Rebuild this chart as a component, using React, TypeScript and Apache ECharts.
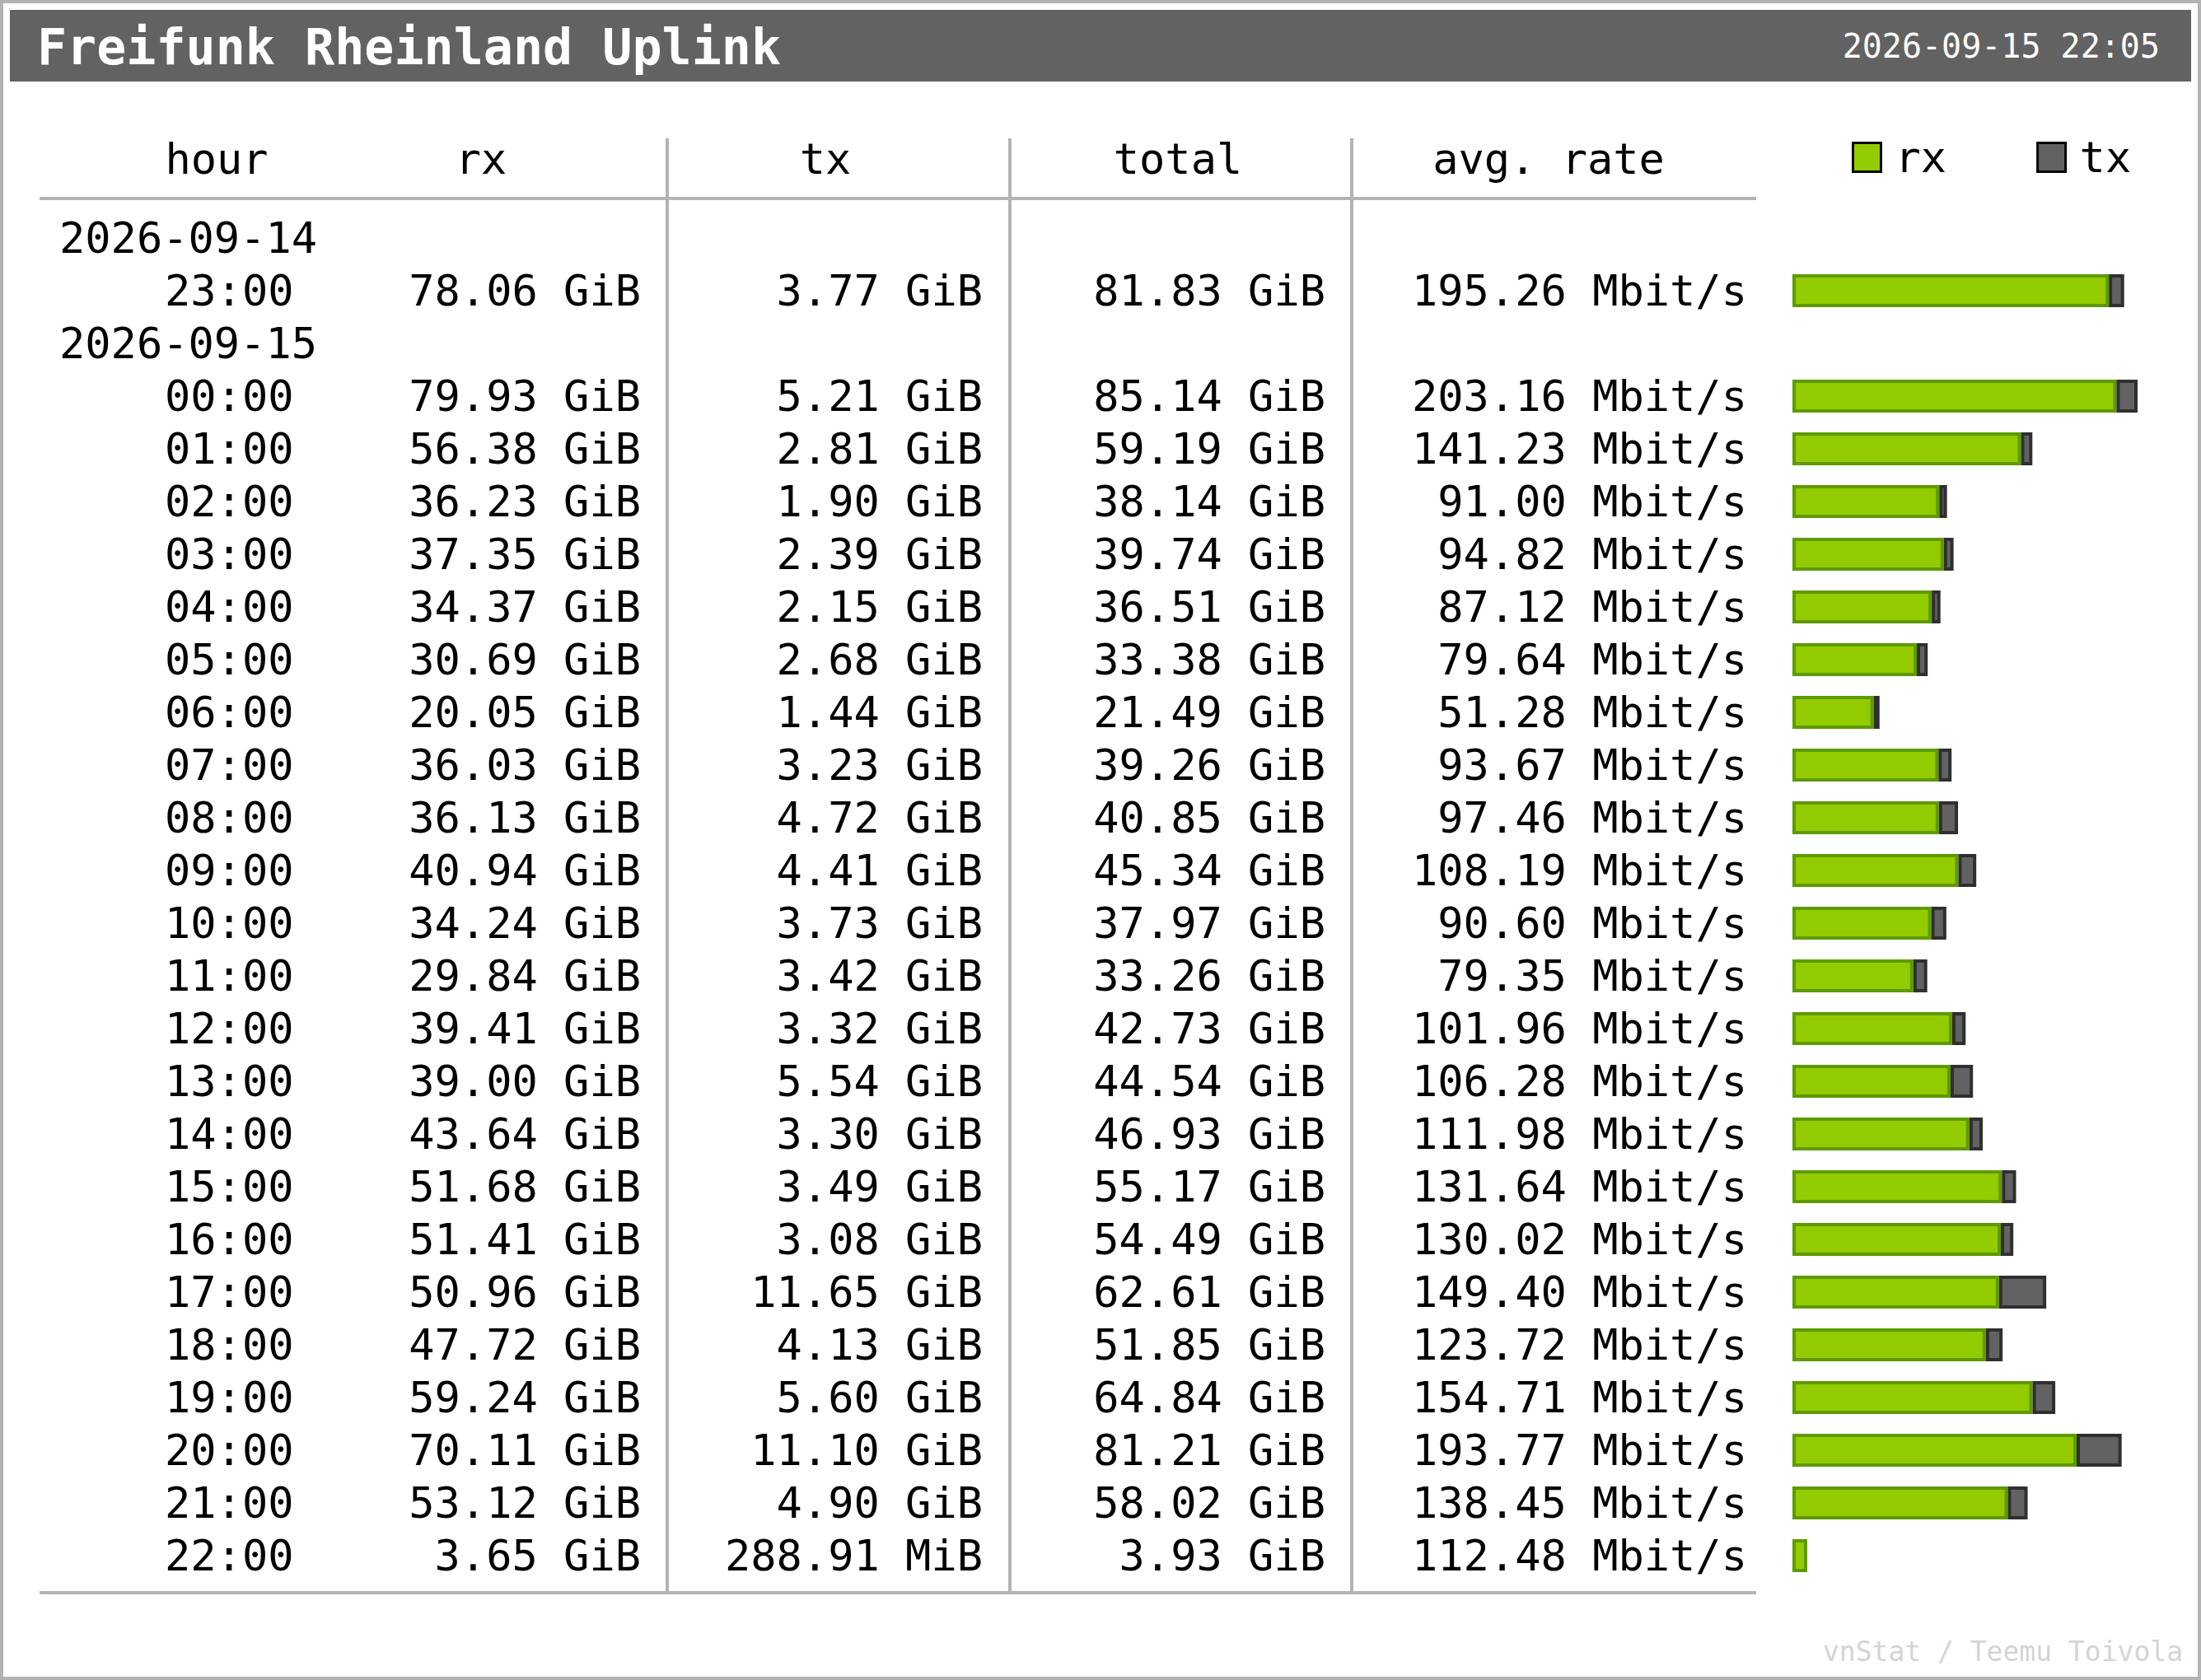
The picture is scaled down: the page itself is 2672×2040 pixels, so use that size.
import React, { useEffect, useRef } from 'react';
import * as echarts from 'echarts';

const FONT = '"DejaVu Sans Mono", monospace';

const chartTitle = 'Freifunk Rheinland Uplink';
const generatedAt = '2026-09-15 22:05';
const credit = 'vnStat / Teemu Toivola';
const columnHeaders = ['hour', 'rx', 'tx', 'total', 'avg. rate'];

// date rows are printed just before the hour with this index
const dayBreaks = [
  { before: 0, date: '2026-09-14' },
  { before: 1, date: '2026-09-15' },
];

const hours = [
  '23:00', '00:00', '01:00', '02:00', '03:00', '04:00', '05:00', '06:00',
  '07:00', '08:00', '09:00', '10:00', '11:00', '12:00', '13:00', '14:00',
  '15:00', '16:00', '17:00', '18:00', '19:00', '20:00', '21:00', '22:00',
];
const rxGiB = [
  78.06, 79.93, 56.38, 36.23, 37.35, 34.37, 30.69, 20.05,
  36.03, 36.13, 40.94, 34.24, 29.84, 39.41, 39.0, 43.64,
  51.68, 51.41, 50.96, 47.72, 59.24, 70.11, 53.12, 3.65,
];
// last hour is 288.91 MiB
const txGiB = [
  3.77, 5.21, 2.81, 1.9, 2.39, 2.15, 2.68, 1.44,
  3.23, 4.72, 4.41, 3.73, 3.42, 3.32, 5.54, 3.3,
  3.49, 3.08, 11.65, 4.13, 5.6, 11.1, 4.9, 0.28214,
];
const totalGiB = [
  81.83, 85.14, 59.19, 38.14, 39.74, 36.51, 33.38, 21.49,
  39.26, 40.85, 45.34, 37.97, 33.26, 42.73, 44.54, 46.93,
  55.17, 54.49, 62.61, 51.85, 64.84, 81.21, 58.02, 3.93,
];
const rateMbit = [
  195.26, 203.16, 141.23, 91.0, 94.82, 87.12, 79.64, 51.28,
  93.67, 97.46, 108.19, 90.6, 79.35, 101.96, 106.28, 111.98,
  131.64, 130.02, 149.4, 123.72, 154.71, 193.77, 138.45, 112.48,
];

type Row = { date?: string; h?: number };

const rows: Row[] = [];
hours.forEach((_, i) => {
  const brk = dayBreaks.find((d) => d.before === i);
  if (brk) rows.push({ date: brk.date });
  rows.push({ h: i });
});
const rowKeys = rows.map((_, i) => String(i));

const fmtSize = (v: number) =>
  v < 1 ? (v * 1024).toFixed(2) + ' MiB' : v.toFixed(2) + ' GiB';

const GRID_LEFT = 2176;
const ROW_H = 64;
const GRID_TOP = 257;

const labelAxis = (offset: number, align: string, text: (r: Row) => string) => ({
  type: 'category',
  data: rowKeys,
  inverse: true,
  position: 'left',
  offset,
  axisLine: { show: false },
  axisTick: { show: false },
  splitLine: { show: false },
  axisLabel: {
    interval: 0,
    margin: 0,
    align,
    fontFamily: FONT,
    fontSize: 52,
    color: '#000',
    formatter: (v: string) => text(rows[Number(v)]),
  },
});

const hourCell = (r: Row, fn: (i: number) => string) => (r.h === undefined ? '' : fn(r.h));

export default function App() {
  const chartRef = useRef<HTMLDivElement>(null);

  useEffect(() => {
    if (!chartRef.current) return;
    const chart = echarts.init(chartRef.current, null, { renderer: 'svg' });

    const maxTotal = Math.max(...rxGiB.map((v, i) => v + txGiB[i]));

    const headerText = (text: string, x: number) => ({
      type: 'text',
      x,
      y: 193,
      style: {
        text,
        fill: '#000',
        fontFamily: FONT,
        fontSize: 52,
        align: 'center',
        textAlign: 'center',
        verticalAlign: 'middle',
        textVerticalAlign: 'middle',
      },
    });
    const tableLine = (x1: number, y1: number, x2: number, y2: number) => ({
      type: 'line',
      shape: { x1, y1, x2, y2 },
      style: { stroke: '#b3b3b3', lineWidth: 4 },
    });

    const option = {
      animation: false,
      backgroundColor: '#fff',
      grid: {
        left: GRID_LEFT,
        top: GRID_TOP,
        width: 419,
        height: rows.length * ROW_H,
      },
      xAxis: { type: 'value', min: 0, max: maxTotal, show: false },
      yAxis: [
        { type: 'category', data: rowKeys, inverse: true, show: false },
        labelAxis(GRID_LEFT - 72, 'left', (r) => r.date ?? ''),
        labelAxis(GRID_LEFT - 200, 'left', (r) => hourCell(r, (i) => hours[i])),
        labelAxis(GRID_LEFT - 778, 'right', (r) => hourCell(r, (i) => fmtSize(rxGiB[i]))),
        labelAxis(GRID_LEFT - 1193, 'right', (r) => hourCell(r, (i) => fmtSize(txGiB[i]))),
        labelAxis(GRID_LEFT - 1609, 'right', (r) => hourCell(r, (i) => fmtSize(totalGiB[i]))),
        labelAxis(GRID_LEFT - 2121, 'right', (r) => hourCell(r, (i) => rateMbit[i].toFixed(2) + ' Mbit/s')),
      ],
      legend: {
        data: ['rx', 'tx'],
        left: 2248,
        top: 165,
        padding: 0,
        icon: 'rect',
        itemWidth: 34,
        itemHeight: 35,
        itemGap: 109,
        itemStyle: { borderColor: '#000', borderWidth: 3 },
        textStyle: { fontFamily: FONT, fontSize: 52, color: '#000', padding: [0, 0, 0, 12] },
        selectedMode: false,
      },
      series: [
        {
          name: 'rx',
          type: 'bar',
          stack: 'traffic',
          barWidth: 40,
          silent: true,
          data: rows.map((r) => (r.h === undefined ? '-' : rxGiB[r.h])),
          itemStyle: { color: '#92cc00', borderColor: '#5e9a00', borderWidth: 4 },
        },
        {
          name: 'tx',
          type: 'bar',
          stack: 'traffic',
          barWidth: 40,
          silent: true,
          data: rows.map((r) => {
            if (r.h === undefined) return '-';
            const v = txGiB[r.h];
            // vnstat leaves out segments narrower than a pixel
            return v / maxTotal < 0.01 ? { value: v, itemStyle: { opacity: 0 } } : v;
          }),
          itemStyle: { color: '#626262', borderColor: '#2f2f2f', borderWidth: 4 },
        },
      ],
      graphic: [
        {
          type: 'rect',
          shape: { x: 2, y: 2, width: 2668, height: 2036 },
          style: { fill: 'none', stroke: '#b3b3b3', lineWidth: 4 },
        },
        {
          type: 'rect',
          shape: { x: 12, y: 12, width: 2648, height: 87 },
          style: { fill: '#626262' },
        },
        {
          type: 'text',
          x: 45,
          y: 57,
          style: {
            text: chartTitle,
            fill: '#fff',
            fontFamily: FONT,
            fontSize: 60,
            fontWeight: 'bold',
            verticalAlign: 'middle',
            textVerticalAlign: 'middle',
          },
        },
        {
          type: 'text',
          x: 2622,
          y: 56,
          style: {
            text: generatedAt,
            fill: '#fff',
            fontFamily: FONT,
            fontSize: 40,
            align: 'right',
            textAlign: 'right',
            verticalAlign: 'middle',
            textVerticalAlign: 'middle',
          },
        },
        headerText(columnHeaders[0], 263),
        headerText(columnHeaders[1], 584),
        headerText(columnHeaders[2], 1002),
        headerText(columnHeaders[3], 1430),
        headerText(columnHeaders[4], 1880),
        tableLine(48, 241, 2132, 241),
        tableLine(48, 1934, 2132, 1934),
        tableLine(810, 168, 810, 1934),
        tableLine(1226, 168, 1226, 1934),
        tableLine(1641, 168, 1641, 1934),
        {
          type: 'text',
          x: 2650,
          y: 2005,
          style: {
            text: credit,
            fill: '#d4d4d4',
            fontFamily: FONT,
            fontSize: 33,
            align: 'right',
            textAlign: 'right',
            verticalAlign: 'middle',
            textVerticalAlign: 'middle',
          },
        },
      ],
    };

    // @ts-ignore
    chart.setOption(option);

    return () => {
      chart.dispose();
    };
  }, []);

  return (
    <div
      ref={chartRef}
      style={{ position: 'absolute', left: 0, top: 0, width: '2672px', height: '2040px' }}
    />
  );
}
